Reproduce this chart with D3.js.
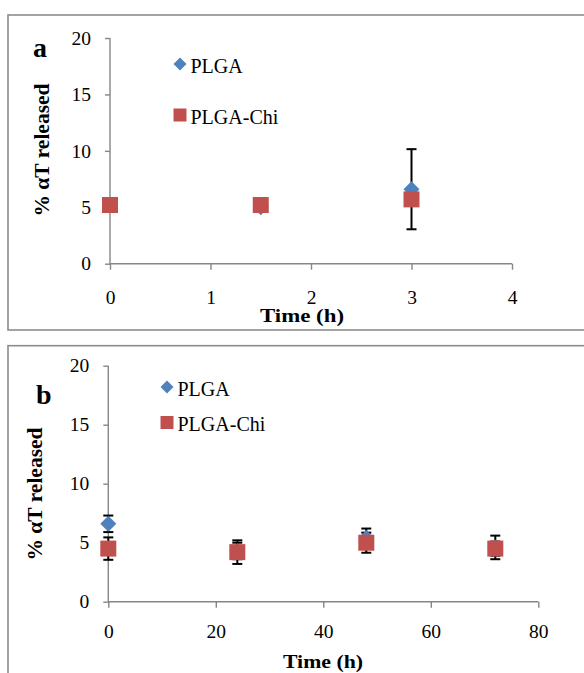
<!DOCTYPE html>
<html>
<head>
<meta charset="utf-8">
<script src="https://cdn.jsdelivr.net/npm/d3@7"></script>
<style>
  body { margin: 0; background: #fff; }
  svg { display: block; }
  text { font-family: "Liberation Serif", "Times New Roman", serif; }
</style>
</head>
<body>
<svg id="chart" width="584" height="673"></svg>
<script>
// panel a: short-term release
var timeA = [0, 1.5, 3];
var plgaA = [5.2, 5.0, 6.6];
var plgaErrA = [0.3, 0.3, 3.55];
var chiA = [5.2, 5.2, 5.7];
var chiErrA = [0.3, 0.3, 0.4];
var xTicksA = [0, 1, 2, 3, 4];

// panel b: long-term release
var timeB = [0, 24, 48, 72];
var plgaB = [6.6, 4.3, 5.4, 4.6];
var plgaErrB = [0.7, 0.7, 0.8, 1.0];
var chiB = [4.5, 4.2, 5.0, 4.5];
var chiErrB = [0.95, 1.0, 0.85, 0.6];
var xTicksB = [0, 20, 40, 60, 80];

var yTicks = [0, 5, 10, 15, 20];
var seriesNames = ["PLGA", "PLGA-Chi"];
var blue = "#4f81bd", red = "#c0504d", axisGrey = "#868686";

var svg = d3.select("#chart");

// draw one panel; layout numbers are per panel
function drawPanel(p) {
  var g = svg.append("g");

  // frame around the panel
  g.append("rect")
    .attr("x", p.frame[0]).attr("y", p.frame[1])
    .attr("width", p.frame[2]).attr("height", p.frame[3])
    .attr("fill", "none").attr("stroke", "#8c8c8c").attr("stroke-width", 1.6);

  var x = d3.scaleLinear().domain(p.xDomain).range(p.xRange);
  var y = d3.scaleLinear().domain([0, 20]).range(p.yRange);

  var yAxis = g.append("g")
    .attr("transform", "translate(" + p.xRange[0] + ",0)")
    .call(d3.axisLeft(y).tickValues(yTicks).tickFormat(d3.format("d"))
      .tickSize(5).tickPadding(14));
  var xAxis = g.append("g")
    .attr("transform", "translate(0," + p.yRange[0] + ")")
    .call(d3.axisBottom(x).tickValues(p.xTicks).tickFormat(d3.format("d"))
      .tickSize(6).tickPadding(p.xPad));

  [xAxis, yAxis].forEach(function(a) {
    a.attr("font-family", null);
    a.select(".domain").attr("stroke", axisGrey).attr("stroke-width", 1.4);
    a.selectAll(".tick line").attr("stroke", axisGrey).attr("stroke-width", 1.4);
    a.selectAll(".tick text").attr("fill", "#000").attr("font-size", 19.5);
  });
  // axis lines without the outer end ticks d3 adds
  xAxis.select(".domain").attr("d", "M" + p.xRange[0] + ",0H" + p.xRange[1]);
  yAxis.select(".domain").attr("d", "M0," + p.yRange[1] + "V" + p.yRange[0]);

  // error bars (PLGA first, then PLGA-Chi)
  [[p.plga, p.plgaErr], [p.chi, p.chiErr]].forEach(function(s) {
    p.time.forEach(function(t, i) {
      var cx = x(t), y1 = y(s[0][i] + s[1][i]), y0 = y(s[0][i] - s[1][i]);
      g.append("line").attr("x1", cx).attr("x2", cx).attr("y1", y1).attr("y2", y0)
        .attr("stroke", "#000").attr("stroke-width", 2);
      [y1, y0].forEach(function(yy) {
        g.append("line").attr("x1", cx - 5).attr("x2", cx + 5).attr("y1", yy).attr("y2", yy)
          .attr("stroke", "#000").attr("stroke-width", 2);
      });
    });
  });

  // PLGA diamonds
  g.selectAll(".dia").data(p.time).enter().append("path")
    .attr("d", function(t, i) {
      var cx = x(t), cy = y(p.plga[i]);
      return "M" + cx + "," + (cy - 8) + "L" + (cx + 8) + "," + cy +
        "L" + cx + "," + (cy + 8) + "L" + (cx - 8) + "," + cy + "Z";
    })
    .attr("fill", blue);

  // PLGA-Chi squares
  g.selectAll(".sq").data(p.time).enter().append("rect")
    .attr("x", function(t) { return x(t) - 8; })
    .attr("y", function(t, i) { return y(p.chi[i]) - 8; })
    .attr("width", 16).attr("height", 16)
    .attr("fill", red);

  // legend
  var lx = p.legend[0], ly = p.legend;
  g.append("path")
    .attr("d", "M" + lx + "," + (ly[1] - 6.5) + "L" + (lx + 6.5) + "," + ly[1] +
      "L" + lx + "," + (ly[1] + 6.5) + "L" + (lx - 6.5) + "," + ly[1] + "Z")
    .attr("fill", blue);
  g.append("rect").attr("x", lx - 6.5).attr("y", ly[2] - 6.5)
    .attr("width", 13).attr("height", 13).attr("fill", red);
  g.append("text").attr("x", lx + 10.5).attr("y", ly[1] + 8.5)
    .attr("font-size", 20).text(seriesNames[0]);
  g.append("text").attr("x", lx + 10.5).attr("y", ly[2] + 8.5)
    .attr("font-size", 20).text(seriesNames[1]);

  // panel letter
  g.append("text").attr("x", p.letterPos[0]).attr("y", p.letterPos[1])
    .attr("font-size", 28).attr("font-weight", "bold").text(p.letter);

  // axis titles
  g.append("text")
    .attr("transform", "translate(" + p.yTitle[0] + "," + p.yTitle[1] + ") rotate(-90)")
    .attr("text-anchor", "middle").attr("font-size", 21.5).attr("font-weight", "bold")
    .text("% \u03b1T released");
  g.append("text")
    .attr("x", p.xTitle[0]).attr("y", p.xTitle[1])
    .attr("text-anchor", "middle").attr("font-size", 18).attr("font-weight", "bold")
    .attr("textLength", p.xTitle[2]).attr("lengthAdjust", "spacingAndGlyphs")
    .text("Time (h)");
}

drawPanel({
  frame: [8, 15, 600, 315],
  xDomain: [0, 4], xRange: [110, 512], yRange: [263.7, 38], xTicks: xTicksA, xPad: 20,
  time: timeA, plga: plgaA, plgaErr: plgaErrA, chi: chiA, chiErr: chiErrA,
  legend: [180, 64, 115], letter: "a", letterPos: [33, 57],
  yTitle: [49, 150], xTitle: [302, 322, 84]
});

drawPanel({
  frame: [8, 345.7, 600, 360],
  xDomain: [0, 80], xRange: [108.3, 538.3], yRange: [601.7, 365.7], xTicks: xTicksB, xPad: 16,
  time: timeB, plga: plgaB, plgaErr: plgaErrB, chi: chiB, chiErr: chiErrB,
  legend: [167, 387, 422.5], letter: "b", letterPos: [36, 404],
  yTitle: [42, 494], xTitle: [323, 668, 80]
});
</script>
</body>
</html>
